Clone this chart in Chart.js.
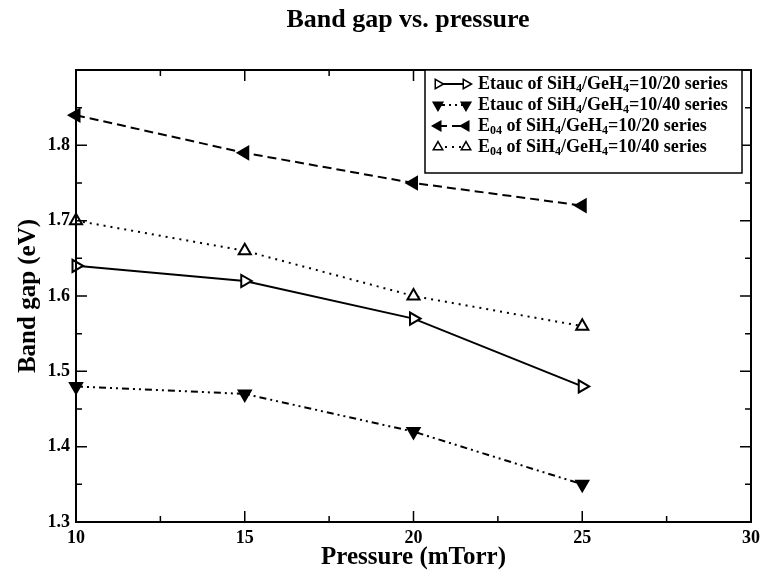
<!DOCTYPE html>
<html>
<head>
<meta charset="utf-8">
<title>Band gap vs. pressure</title>
<script src="https://cdn.jsdelivr.net/npm/chart.js@4.4.0/dist/chart.umd.min.js"></script>
<style>
  html, body { margin: 0; padding: 0; background: #fff; }
</style>
</head>
<body>
<canvas id="chart" width="763" height="573"></canvas>
<script>
// Data
const pressure = [10, 15, 20, 25];
const etauc1020 = [1.64, 1.62, 1.57, 1.48];
const etauc1040 = [1.48, 1.47, 1.42, 1.35];
const e04_1020 = [1.84, 1.79, 1.75, 1.72];
const e04_1040 = [1.70, 1.66, 1.60, 1.56];

const xTicks = [10, 15, 20, 25, 30];
const yTicks = [1.3, 1.4, 1.5, 1.6, 1.7, 1.8];

const chartTitle = "Band gap vs. pressure";
const xTitle = "Pressure (mTorr)";
const yTitle = "Band gap (eV)";

// legend text split into [text, subscript?] runs
const legendLabels = [
  [["Etauc of SiH", 0], ["4", 1], ["/GeH", 0], ["4", 1], ["=10/20 series", 0]],
  [["Etauc of SiH", 0], ["4", 1], ["/GeH", 0], ["4", 1], ["=10/40 series", 0]],
  [["E", 0], ["04", 1], [" of SiH", 0], ["4", 1], ["/GeH", 0], ["4", 1], ["=10/20 series", 0]],
  [["E", 0], ["04", 1], [" of SiH", 0], ["4", 1], ["/GeH", 0], ["4", 1], ["=10/40 series", 0]],
];

const SERIF = "'Liberation Serif', 'Times New Roman', serif";

function toPoints(ys) {
  return pressure.map((x, i) => ({ x: x, y: ys[i] }));
}

function series(label, ys, dash, rotation, filled) {
  return {
    label: label,
    data: toPoints(ys),
    borderColor: "#000",
    borderWidth: 2,
    borderDash: dash,
    pointStyle: "triangle",
    rotation: rotation,
    pointRadius: 7,
    pointHoverRadius: 7,
    pointBorderWidth: 2,
    pointBackgroundColor: filled ? "#000" : "#fff",
    pointBorderColor: "#000",
    tension: 0,
    clip: false,
  };
}

// frame, inward ticks on all sides, title and legend
const decorPlugin = {
  id: "decor",
  afterDatasetsDraw(chart) {
    const ctx = chart.ctx;
    const area = chart.chartArea;
    const xs = chart.scales.x;
    const ys = chart.scales.y;
    ctx.save();
    ctx.strokeStyle = "#000";
    ctx.lineWidth = 2;
    ctx.setLineDash([]);
    ctx.strokeRect(area.left, area.top, area.right - area.left, area.bottom - area.top);

    ctx.lineWidth = 1.5;
    ctx.beginPath();
    for (let v = xs.min; v <= xs.max + 1e-9; v += 2.5) {
      const px = xs.getPixelForValue(v);
      const len = Math.abs(v % 5) < 1e-6 ? 11 : 6;
      ctx.moveTo(px, area.bottom); ctx.lineTo(px, area.bottom - len);
      ctx.moveTo(px, area.top); ctx.lineTo(px, area.top + len);
    }
    for (let i = 0; i <= Math.round((ys.max - ys.min) / 0.05); i++) {
      const v = ys.min + i * 0.05;
      const py = ys.getPixelForValue(v);
      const len = i % 2 === 0 ? 11 : 6;
      ctx.moveTo(area.left, py); ctx.lineTo(area.left + len, py);
      ctx.moveTo(area.right, py); ctx.lineTo(area.right - len, py);
    }
    ctx.stroke();

    // chart title
    ctx.fillStyle = "#000";
    ctx.font = "bold 26px " + SERIF;
    ctx.textAlign = "center";
    ctx.textBaseline = "alphabetic";
    ctx.fillText(chartTitle, 408, 27);

    // legend box
    const box = { left: 425, top: 70, right: 742, bottom: 173 };
    ctx.fillStyle = "#fff";
    ctx.fillRect(box.left, box.top, box.right - box.left, box.bottom - box.top);
    ctx.lineWidth = 1.5;
    ctx.strokeStyle = "#000";
    ctx.strokeRect(box.left, box.top, box.right - box.left, box.bottom - box.top);

    chart.data.datasets.forEach((ds, i) => {
      const y = 84 + i * 21;
      const x1 = 438, x2 = 466;
      ctx.lineWidth = ds.borderWidth;
      ctx.setLineDash(ds.borderDash || []);
      ctx.beginPath();
      ctx.moveTo(x1, y); ctx.lineTo(x2, y);
      ctx.stroke();
      ctx.setLineDash([]);
      const opts = { pointStyle: ds.pointStyle, rotation: ds.rotation, radius: 5.5, borderWidth: 1.5 };
      [x1, x2].forEach((px) => {
        ctx.fillStyle = ds.pointBackgroundColor;
        ctx.strokeStyle = "#000";
        ctx.lineWidth = 1.5;
        Chart.helpers.drawPoint(ctx, opts, px, y);
      });

      // label with subscripts
      let tx = 478;
      ctx.fillStyle = "#000";
      ctx.textAlign = "left";
      ctx.textBaseline = "middle";
      legendLabels[i].forEach(([txt, sub]) => {
        ctx.font = sub ? "bold 12px " + SERIF : "bold 18px " + SERIF;
        ctx.fillText(txt, tx, sub ? y + 5 : y);
        tx += ctx.measureText(txt).width;
      });
    });
    ctx.restore();
  },
};

const ctx = document.getElementById("chart");
new Chart(ctx, {
  type: "line",
  data: {
    datasets: [
      series("Etauc of SiH4/GeH4=10/20 series", etauc1020, [], 90, false),
      series("Etauc of SiH4/GeH4=10/40 series", etauc1040, [7, 4, 2, 4, 2, 4], 180, true),
      series("E04 of SiH4/GeH4=10/20 series", e04_1020, [9, 5], 270, true),
      series("E04 of SiH4/GeH4=10/40 series", e04_1040, [2, 5], 0, false),
    ],
  },
  options: {
    responsive: false,
    animation: false,
    layout: { padding: { left: 0, right: 12, top: 70, bottom: 0 } },
    plugins: {
      legend: { display: false },
      title: { display: false },
      tooltip: { enabled: false },
    },
    scales: {
      x: {
        type: "linear",
        min: 10,
        max: 30,
        afterFit: (scale) => {
          scale.height = 51;
          scale.paddingLeft = 0;
          scale.paddingRight = 0;
        },
        afterBuildTicks: (scale) => { scale.ticks = xTicks.map((v) => ({ value: v })); },
        grid: { display: false, drawTicks: false },
        border: { display: false },
        ticks: {
          color: "#000",
          padding: 6,
          maxRotation: 0,
          autoSkip: false,
          font: { family: SERIF, size: 18, weight: "bold" },
          callback: (v) => String(v),
        },
        title: {
          display: true,
          text: xTitle,
          color: "#000",
          padding: { top: 0, bottom: 0 },
          font: { family: SERIF, size: 25, weight: "bold" },
        },
      },
      y: {
        type: "linear",
        min: 1.3,
        max: 1.9,
        afterFit: (scale) => { scale.width = 76; },
        afterBuildTicks: (scale) => { scale.ticks = yTicks.map((v) => ({ value: v })); },
        grid: { display: false, drawTicks: false },
        border: { display: false },
        ticks: {
          color: "#000",
          padding: 6,
          autoSkip: false,
          font: { family: SERIF, size: 18, weight: "bold" },
          callback: (v) => Number(v).toFixed(1),
        },
        title: {
          display: true,
          text: yTitle,
          color: "#000",
          padding: { top: 14, bottom: 0 },
          font: { family: SERIF, size: 25, weight: "bold" },
        },
      },
    },
  },
  plugins: [decorPlugin],
});
</script>
</body>
</html>
